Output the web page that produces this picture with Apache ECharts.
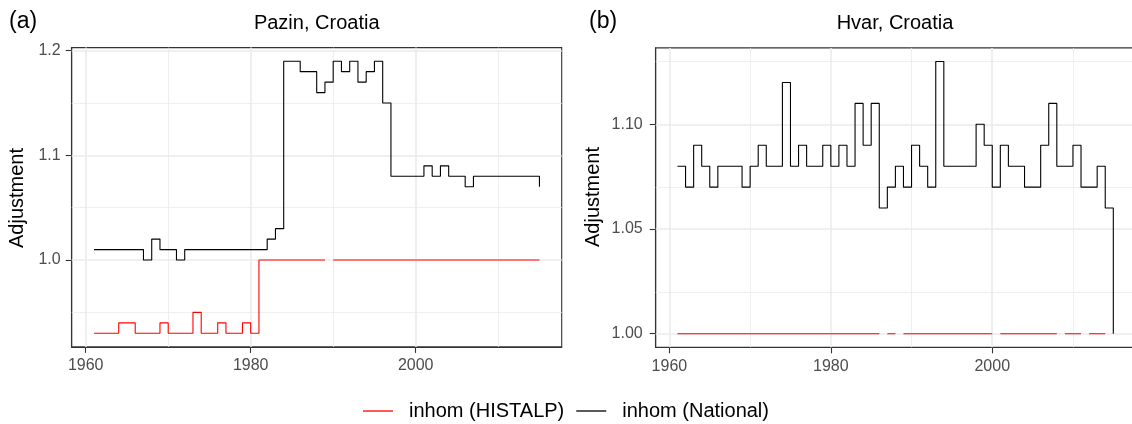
<!DOCTYPE html>
<html><head><meta charset="utf-8">
<script src="https://cdn.jsdelivr.net/npm/echarts@6/dist/echarts.min.js"></script>
<style>html,body{margin:0;padding:0;background:#fff}#c{width:1132px;height:424px}</style>
</head><body><div id="c"></div>
<script>
// ---------- data ----------
const years = [1961,1962,1963,1964,1965,1966,1967,1968,1969,1970,
  1971,1972,1973,1974,1975,1976,1977,1978,1979,1980,
  1981,1982,1983,1984,1985,1986,1987,1988,1989,1990,
  1991,1992,1993,1994,1995,1996,1997,1998,1999,2000,
  2001,2002,2003,2004,2005,2006,2007,2008,2009,2010,
  2011,2012,2013,2014,2015];

const pazinHistalp = [0.93,0.93,0.93,0.94,0.94,0.93,0.93,0.93,0.94,0.93,
  0.93,0.93,0.95,0.93,0.93,0.94,0.93,0.93,0.94,0.93,
  1.00,1.00,1.00,1.00,1.00,1.00,1.00,1.00,null,1.00,
  1.00,1.00,1.00,1.00,1.00,1.00,1.00,1.00,1.00,1.00,
  1.00,1.00,1.00,1.00,1.00,1.00,1.00,1.00,1.00,1.00,
  1.00,1.00,1.00,1.00,1.00];

const pazinNational = [1.01,1.01,1.01,1.01,1.01,1.01,1.00,1.02,1.01,1.01,
  1.00,1.01,1.01,1.01,1.01,1.01,1.01,1.01,1.01,1.01,
  1.01,1.02,1.03,1.19,1.19,1.18,1.18,1.16,1.17,1.19,
  1.18,1.19,1.17,1.18,1.19,1.15,1.08,1.08,1.08,1.08,
  1.09,1.08,1.09,1.08,1.08,1.07,1.08,1.08,1.08,1.08,
  1.08,1.08,1.08,1.08,1.07];

const hvarHistalp = [1.00,1.00,1.00,1.00,1.00,1.00,1.00,1.00,1.00,1.00,
  1.00,1.00,1.00,1.00,1.00,1.00,1.00,1.00,1.00,1.00,
  1.00,1.00,1.00,1.00,1.00,null,1.00,null,1.00,1.00,
  1.00,1.00,1.00,1.00,1.00,1.00,1.00,1.00,1.00,null,
  1.00,1.00,1.00,1.00,1.00,1.00,1.00,null,1.00,1.00,
  null,1.00,1.00,null,null];

const hvarNational = [1.08,1.07,1.09,1.08,1.07,1.08,1.08,1.08,1.07,1.08,
  1.09,1.08,1.08,1.12,1.08,1.09,1.08,1.08,1.09,1.08,
  1.09,1.08,1.11,1.09,1.11,1.06,1.07,1.08,1.07,1.09,
  1.08,1.07,1.13,1.08,1.08,1.08,1.08,1.10,1.09,1.07,
  1.09,1.08,1.08,1.07,1.07,1.09,1.11,1.08,1.08,1.09,
  1.07,1.07,1.08,1.06,1.00];

const xTicks = [1960, 1980, 2000];
const xMinor = [1970, 1990, 2010];
const pazinYTicks = [1.0, 1.1, 1.2];
const pazinYMinor = [0.95, 1.05, 1.15];
const hvarYTicks = [1.00, 1.05, 1.10];
const hvarYMinor = [1.025, 1.075, 1.125];

const seriesNames = ['inhom (HISTALP)', 'inhom (National)'];
const panelTitles = ['Pazin, Croatia', 'Hvar, Croatia'];
const panelTags = ['(a)', '(b)'];
const yTitle = 'Adjustment';

// ---------- helpers ----------
const FONT = '"Liberation Sans", Arial, Helvetica, sans-serif';
const GRIDC = '#EBEBEB';

function stepData(xs, vs) {
  const out = [];
  for (let i = 0; i < xs.length; i++) {
    const v = vs[i];
    if (v == null) {
      if (i > 0 && vs[i - 1] != null) out.push([xs[i], vs[i - 1]]);
      out.push([xs[i], null]);
    } else {
      out.push([xs[i], v]);
    }
  }
  return out;
}

function gridLines(idx, yMaj, yMin) {
  const d = [];
  xTicks.forEach(v => d.push({ xAxis: v, lineStyle: { width: 1.6, color: GRIDC } }));
  xMinor.forEach(v => d.push({ xAxis: v, lineStyle: { width: 0.8, color: GRIDC } }));
  yMaj.forEach(v => d.push({ yAxis: v, lineStyle: { width: 1.6, color: GRIDC } }));
  yMin.forEach(v => d.push({ yAxis: v, lineStyle: { width: 0.8, color: GRIDC } }));
  return {
    type: 'line', xAxisIndex: idx, yAxisIndex: idx, data: [], silent: true, z: 1,
    markLine: { silent: true, symbol: 'none', z: 1, label: { show: false },
      lineStyle: { type: 'solid' }, emphasis: { disabled: true }, data: d }
  };
}

function xAxis(idx) {
  return {
    type: 'value', gridIndex: idx, min: 1958.3, max: 2017.7, splitNumber: 3,
    axisLine: { show: true, onZero: false, lineStyle: { color: '#333', width: 1.1 } },
    axisTick: { show: true, length: 6, lineStyle: { color: '#333', width: 1.1 }, customValues: xTicks },
    axisLabel: { margin: 11, color: '#4D4D4D', fontSize: 16, fontFamily: FONT, customValues: xTicks,
      formatter: v => String(v) },
    splitLine: { show: false }
  };
}

function yAxis(idx, min, max, ticks, dec, margin) {
  return {
    type: 'value', gridIndex: idx, min: min, max: max,
    axisLine: { show: true, lineStyle: { color: '#333', width: 1.1 } },
    axisTick: { show: true, length: 6, lineStyle: { color: '#333', width: 1.1 }, customValues: ticks },
    axisLabel: { margin: margin, color: '#4D4D4D', fontSize: 16, fontFamily: FONT, customValues: ticks,
      formatter: v => Number(v).toFixed(dec) },
    splitLine: { show: false }
  };
}

function stepSeries(name, idx, xs, vs, color, z) {
  return {
    name: name, type: 'line', step: 'end', xAxisIndex: idx, yAxisIndex: idx,
    data: stepData(xs, vs), showSymbol: false, symbol: 'none', connectNulls: false,
    color: color, lineStyle: { color: color, width: 1.1 }, z: z, silent: true
  };
}

const chart = echarts.init(document.getElementById('c'), null, { renderer: 'canvas' });
chart.setOption({
  animation: false,
  backgroundColor: '#fff',
  textStyle: { fontFamily: FONT },
  grid: [
    { left: 71.7, top: 47.6, width: 490, height: 299.3, show: true, borderColor: '#333', borderWidth: 1.1,
      backgroundColor: 'transparent', outerBoundsMode: 'none', containLabel: false },
    { left: 655.7, top: 47.9, width: 479.4, height: 299.4, show: true, borderColor: '#333', borderWidth: 1.1,
      backgroundColor: 'transparent', outerBoundsMode: 'none', containLabel: false }
  ],
  xAxis: [xAxis(0), xAxis(1)],
  yAxis: [
    yAxis(0, 0.917, 1.203, pazinYTicks, 1, 11),
    yAxis(1, 0.9935, 1.1365, hvarYTicks, 2, 13)
  ],
  legend: {
    data: seriesNames, left: 'center', top: 396, icon: 'rect', itemWidth: 30, itemHeight: 1.3,
    itemGap: 12, selectedMode: false,
    textStyle: { fontSize: 20, color: '#000', fontFamily: FONT, padding: [0, 0, 0, 11] }
  },
  graphic: [
    { type: 'text', x: 316.7, y: 23, style: { text: panelTitles[0], font: '20px ' + FONT, fill: '#000', textAlign: 'center', textVerticalAlign: 'middle' } },
    { type: 'text', x: 895, y: 23, style: { text: panelTitles[1], font: '20px ' + FONT, fill: '#000', textAlign: 'center', textVerticalAlign: 'middle' } },
    { type: 'text', x: 9, y: 22, style: { text: panelTags[0], font: '23px ' + FONT, fill: '#000', textAlign: 'left', textVerticalAlign: 'middle' } },
    { type: 'text', x: 589, y: 22, style: { text: panelTags[1], font: '23px ' + FONT, fill: '#000', textAlign: 'left', textVerticalAlign: 'middle' } },
    { type: 'text', x: 17, y: 198, rotation: Math.PI / 2, style: { text: yTitle, font: '20px ' + FONT, fill: '#000', textAlign: 'center', textVerticalAlign: 'middle' } },
    { type: 'text', x: 593, y: 197, rotation: Math.PI / 2, style: { text: yTitle, font: '20px ' + FONT, fill: '#000', textAlign: 'center', textVerticalAlign: 'middle' } }
  ],
  series: [
    gridLines(0, pazinYTicks, pazinYMinor),
    gridLines(1, hvarYTicks, hvarYMinor),
    stepSeries(seriesNames[0], 0, years, pazinHistalp, '#FF0000', 3),
    stepSeries(seriesNames[1], 0, years, pazinNational, '#000000', 4),
    stepSeries(seriesNames[0], 1, years, hvarHistalp, '#FF0000', 3),
    stepSeries(seriesNames[1], 1, years, hvarNational, '#000000', 4)
  ]
});
</script>
</body></html>
